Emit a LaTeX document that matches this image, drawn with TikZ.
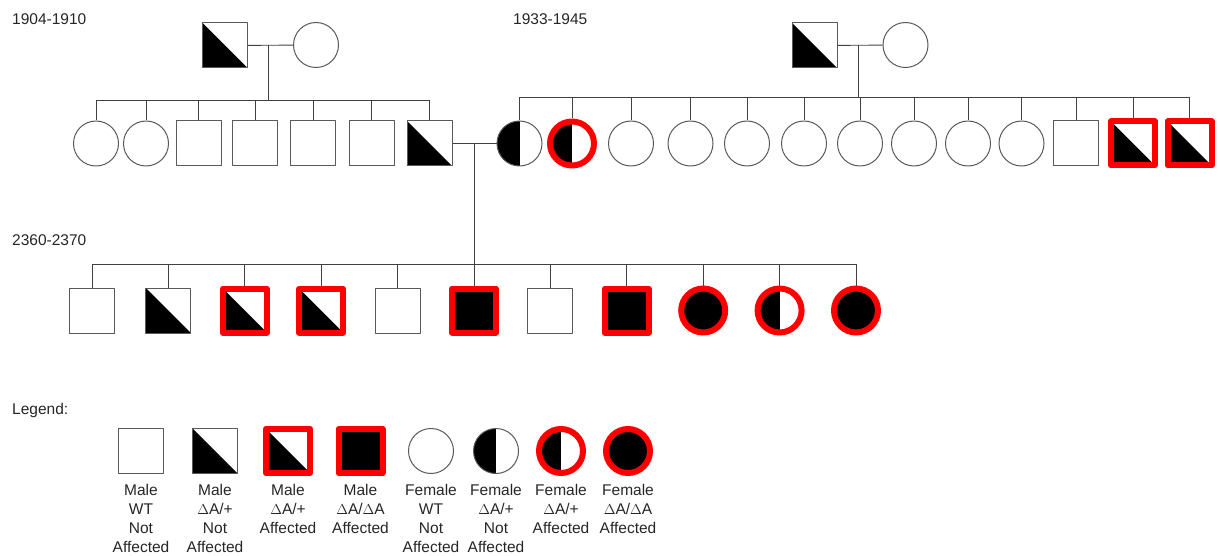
\documentclass[tikz,border=0pt]{standalone}
\usepackage{fontspec}
\setmainfont{Liberation Sans}
\usetikzlibrary{calc}

\tikzset{
  male/.style={rectangle, draw=black!65, line width=1pt, fill=white, minimum size=45pt, inner sep=0pt},
  female/.style={circle, draw=black!65, line width=1pt, fill=white, minimum size=45pt, inner sep=0pt},
  halfm/.style={path picture={\fill[black] (path picture bounding box.north west) -- (path picture bounding box.south west) -- (path picture bounding box.south east) -- cycle;}},
  halff/.style={path picture={\fill[black] (path picture bounding box.north west) rectangle (path picture bounding box.south);}},
  sick/.style={draw=red, line width=6pt, minimum size=44pt},
  mwt/.style={male},
  mhet/.style={male, halfm},
  mheta/.style={male, halfm, sick},
  mhom/.style={male, sick, fill=black},
  fwt/.style={female},
  fhet/.style={female, halff},
  fheta/.style={female, halff, sick},
  fhom/.style={female, sick, fill=black},
  link/.style={draw=black!75, line width=0.9pt},
  lbl/.style={font=\fontsize{15.5}{19}\selectfont, text=black!85, inner sep=0pt}
}

\begin{document}
\begin{tikzpicture}[x=1pt, y=-1pt, line join=round]
    \useasboundingbox (0,0) rectangle (1218,556);

    % 年份与图例标题
    \node[lbl, anchor=base west] (y1) at (12,25) {1904-1910};
    \node[lbl, anchor=base west] (y2) at (513,25) {1933-1945};
    \node[lbl, anchor=base west] (y3) at (12,246) {2360-2370};
    \node[lbl, anchor=base west] (lg) at (12,414) {Legend:};

    % 1. 第一代 (左侧家庭)
    \node[mhet] (p1) at (225,45.5) {};
    \node[fwt] (p2) at (316,45) {};
    \draw[link] (p1) -- (p2);
    \coordinate (m1) at ($(p1.east)!0.45!(p2.west)$);
    \coordinate (s1) at (0,100);
    \draw[link] (m1) -- (m1 |- s1);

    % 左侧家庭的子女
    \foreach \n/\x/\s in {a1/96/fwt, a2/146/fwt, a3/198.5/mwt, a4/255/mwt, a5/313/mwt, a6/371.5/mwt, a7/429.5/mhet}{
        \node[\s] (\n) at (\x,143.5) {};
        \draw[link] (\n.north) -- (\n.north |- s1);
    }
    \draw[link] (a1.north |- s1) -- (a7.north |- s1);

    % 2. 第一代 (右侧家庭)
    \node[mhet] (q1) at (814.5,45.5) {};
    \node[fwt] (q2) at (905.5,45) {};
    \draw[link] (q1) -- (q2);
    \coordinate (m2) at ($(q1.east)!0.47!(q2.west)$);
    \coordinate (s2) at (0,97);
    \draw[link] (m2) -- (m2 |- s2);

    % 右侧家庭的子女
    \foreach \n/\x/\s in {b1/519.5/fhet, b2/572/fheta, b3/631/fwt, b4/690.5/fwt, b5/747/fwt, b6/804/fwt, b7/860/fwt, b8/914/fwt, b9/968/fwt, b10/1021.5/fwt, b11/1076/mwt, b12/1133/mheta, b13/1189.5/mheta}{
        \node[\s] (\n) at (\x,143.5) {};
        \draw[link] (\n.north) -- (\n.north |- s2);
    }
    \draw[link] (b1.north |- s2) -- (b13.north |- s2);

    % 3. 第二代婚配与第三代
    \draw[link] (a7) -- (b1);
    \coordinate (m3) at ($(a7.east)!0.5!(b1.west)$);
    \coordinate (s3) at (0,264);
    \draw[link] (m3) -- (m3 |- s3);

    \foreach \s [count=\i from 0] in {mwt, mhet, mheta, mheta, mwt, mhom, mwt, mhom, fhom, fheta, fhom}{
        \node[\s] (c\i) at ({92+76.4*\i},310.5) {};
        \draw[link] (c\i.north) -- (c\i.north |- s3);
    }
    \draw[link] (c0.north |- s3) -- (c10.north |- s3);

    % 4. 图例
    \foreach \n/\x/\s/\t in {g1/141/mwt/{Male\\WT\\Not\\Affected}, g2/215/mhet/{Male\\$\Delta$A/+\\Not\\Affected}, g3/288/mheta/{Male\\$\Delta$A/+\\Affected}, g4/360.5/mhom/{Male\\$\Delta$A/$\Delta$A\\Affected}, g5/431/fwt/{Female\\WT\\Not\\Affected}, g6/496/fhet/{Female\\$\Delta$A/+\\Not\\Affected}, g7/561/fheta/{Female\\$\Delta$A/+\\Affected}, g8/628/fhom/{Female\\$\Delta$A/$\Delta$A\\Affected}}{
        \node[\s] (\n) at (\x,451) {};
        \node[lbl, align=center, anchor=north] (t\n) at (\x,484) {\t};
    }
\end{tikzpicture}
\end{document}
